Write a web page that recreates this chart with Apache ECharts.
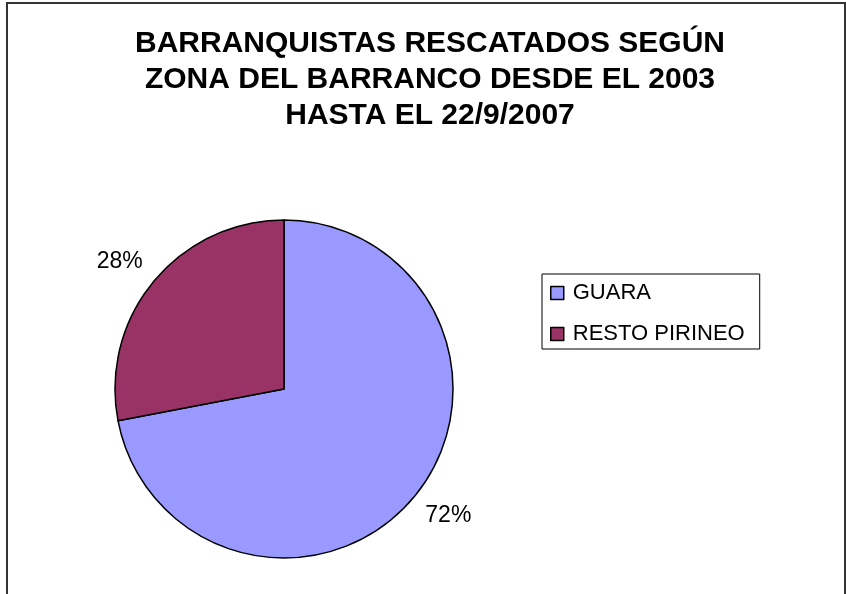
<!DOCTYPE html>
<html>
<head>
<meta charset="utf-8">
<script src="https://cdn.jsdelivr.net/npm/echarts@6/dist/echarts.min.js"></script>
<style>
html,body{margin:0;padding:0;background:#fff;}
#chart{width:846px;height:594px;}
</style>
</head>
<body>
<div id="chart"></div>
<script>
const titleLines = ['BARRANQUISTAS RESCATADOS SEGÚN', 'ZONA DEL BARRANCO DESDE EL 2003', 'HASTA EL 22/9/2007'];
const categories = ['GUARA', 'RESTO PIRINEO'];
const values = [72, 28];
const colors = ['#9999FF', '#993366'];

const chart = echarts.init(document.getElementById('chart'), null, {renderer: 'canvas'});
const font = '"Liberation Sans", Arial, sans-serif';
chart.setOption({
  animation: false,
  backgroundColor: '#ffffff',
  graphic: [{
    type: 'rect',
    shape: {x: 7, y: 3, width: 838, height: 640},
    style: {fill: 'none', stroke: '#333', lineWidth: 2},
    silent: true, z: -1
  }],
  title: {
    text: titleLines.join('\n'),
    left: 430,
    top: 26,
    textAlign: 'center',
    padding: 0,
    textStyle: {fontFamily: font, fontWeight: 'bold', fontSize: 30, lineHeight: 36, color: '#000'}
  },
  legend: {
    orient: 'vertical',
    left: 542,
    top: 274,
    padding: [8, 15, 4, 8],
    itemGap: 19,
    itemWidth: 13,
    itemHeight: 13,
    icon: 'rect',
    borderColor: '#000',
    borderWidth: 1,
    itemStyle: {borderColor: '#000', borderWidth: 1.5},
    textStyle: {fontFamily: font, fontSize: 22, lineHeight: 22, color: '#000', padding: [0, 0, 0, 4]},
    data: categories
  },
  series: [{
    type: 'pie',
    center: [284, 389],
    radius: 169,
    startAngle: 90,
    clockwise: true,
    avoidLabelOverlap: false,
    color: colors,
    itemStyle: {borderColor: '#000', borderWidth: 1.5},
    label: {
      show: true,
      position: 'outside',
      formatter: '{d}%',
      fontFamily: font,
      fontSize: 23,
      color: '#000'
    },
    labelLine: {show: false, length: 30, length2: -17},
    emphasis: {disabled: true},
    data: categories.map((c, i) => ({name: c, value: values[i]}))
  }]
});
</script>
</body>
</html>
